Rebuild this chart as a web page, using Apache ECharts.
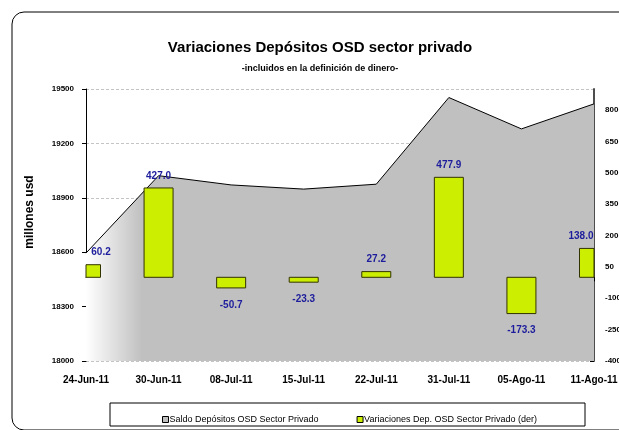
<!DOCTYPE html>
<html>
<head>
<meta charset="utf-8">
<script src="https://cdn.jsdelivr.net/npm/echarts@6/dist/echarts.min.js"></script>
<style>
  html, body { margin: 0; padding: 0; background: #fff; }
  #chart { width: 619px; height: 430px; }
</style>
</head>
<body>
<div id="chart"></div>
<script>
// fechas
var fechas = ['24-Jun-11', '30-Jun-11', '08-Jul-11', '15-Jul-11', '22-Jul-11', '31-Jul-11', '05-Ago-11', '11-Ago-11'];
// saldo (eje izq.)
var saldo = [18595, 19022, 18971, 18948, 18975, 19453, 19280, 19418];
// variaciones (eje der.)
var variaciones = [60.2, 427.0, -50.7, -23.3, 27.2, 477.9, -173.3, 138.0];
// marcas eje derecho
var ticksDer = [-400, -250, -100, 50, 200, 350, 500, 650, 800];

var chart = echarts.init(document.getElementById('chart'));

var fuente = '"Liberation Sans", Arial, sans-serif';
var anchoBarra = 29;

// barras con recorte al area del grafico (como en excel)
function dibujarBarra(params, api) {
    var i = api.value(0);
    var v = api.value(1);
    var base = api.coord([i, 0]);
    var tope = api.coord([i, v]);
    var cs = params.coordSys;
    var rect = echarts.graphic.clipRectByRect({
        x: base[0] - anchoBarra / 2,
        y: Math.min(base[1], tope[1]),
        width: anchoBarra,
        height: Math.abs(base[1] - tope[1])
    }, { x: cs.x, y: cs.y, width: cs.width, height: cs.height });
    var hijos = [];
    if (rect) {
        hijos.push({
            type: 'rect',
            shape: rect,
            style: { fill: '#ccee00', stroke: '#333300', lineWidth: 1 }
        });
    }
    // etiqueta de valor
    var dx = 0;
    if (params.dataIndex === 0) dx = 15;
    if (params.dataIndex === variaciones.length - 1) dx = -13;
    hijos.push({
        type: 'text',
        x: base[0] + dx,
        y: v >= 0 ? tope[1] - 7 : tope[1] + 12,
        style: {
            text: v.toFixed(1),
            fill: '#1c1c9c',
            font: 'bold 10px ' + fuente,
            align: 'center',
            verticalAlign: v >= 0 ? 'bottom' : 'top'
        },
        z2: 10
    });
    return { type: 'group', children: hijos };
}

var option = {
    animation: false,
    textStyle: { fontFamily: fuente },
    title: [{
        text: 'Variaciones Depósitos OSD sector privado',
        left: 315, top: 35, textAlign: 'center',
        textStyle: { fontSize: 15, fontWeight: 'bold', color: '#000', fontFamily: fuente }
    }, {
        text: '-incluidos en la definición de dinero-',
        left: 315, top: 59, textAlign: 'center',
        textStyle: { fontSize: 9, fontWeight: 'bold', color: '#000', fontFamily: fuente }
    }],
    graphic: [{
        type: 'rect',
        shape: { x: 12, y: 12, width: 622, height: 418, r: 12 },
        style: { fill: 'none', stroke: '#000', lineWidth: 1 },
        z: -10
    }, {
        type: 'rect',
        shape: { x: 110, y: 403, width: 475, height: 23 },
        style: { fill: '#fff', stroke: '#000', lineWidth: 1 },
        z: -5
    }],
    legend: {
        left: 157, top: 410,
        itemWidth: 6, itemHeight: 6, itemGap: 38,
        icon: 'rect',
        textStyle: { fontSize: 9, color: '#000', padding: [0, 0, 0, -4] },
        data: [
            { name: 'Saldo Depósitos OSD Sector Privado', itemStyle: { color: '#c0c0c0', borderColor: '#000', borderWidth: 1 } },
            { name: 'Variaciones Dep. OSD Sector Privado (der)', itemStyle: { color: '#ccee00', borderColor: '#000', borderWidth: 1 } }
        ]
    },
    grid: { left: 86, right: 25, top: 89, bottom: 69, outerBoundsMode: 'none', containLabel: false },
    xAxis: {
        type: 'category',
        data: fechas,
        boundaryGap: false,
        axisLine: { lineStyle: { color: '#000', width: 1 } },
        axisTick: { show: true, length: 4, lineStyle: { color: '#000' } },
        axisLabel: { fontSize: 10, fontWeight: 'bold', color: '#000', margin: 14, showMaxLabel: true, showMinLabel: true }
    },
    yAxis: [{
        type: 'value',
        min: 18000, max: 19500, interval: 300,
        name: 'millones usd',
        nameLocation: 'middle',
        nameGap: 50,
        nameTextStyle: { fontSize: 12, fontWeight: 'bold', color: '#000', padding: [0, 0, 0, 26] },
        axisLine: { show: true, lineStyle: { color: '#000', width: 1 } },
        axisTick: { show: true, length: 4, lineStyle: { color: '#000' } },
        axisLabel: {
            fontSize: 8, fontWeight: 'bold', color: '#000', margin: 12,
            formatter: function (v) { return String(v); }
        },
        splitLine: { show: true, lineStyle: { color: '#c4c4c4', type: [3, 2] } }
    }, {
        type: 'value',
        min: -400, max: 900,
        position: 'right',
        axisLine: { show: true, lineStyle: { color: '#4d4d4d', width: 2 } },
        axisTick: { show: true, inside: true, length: 4, customValues: ticksDer, lineStyle: { color: '#000' } },
        axisLabel: { fontSize: 8, fontWeight: 'bold', color: '#000', margin: 11, customValues: ticksDer },
        splitLine: { show: false }
    }],
    series: [{
        name: 'Saldo Depósitos OSD Sector Privado',
        type: 'line',
        yAxisIndex: 0,
        data: saldo,
        symbol: 'none',
        lineStyle: { color: '#000', width: 1 },
        itemStyle: { color: '#c0c0c0' },
        areaStyle: {
            opacity: 1,
            color: new echarts.graphic.LinearGradient(0, 0, 1, 0, [
                { offset: 0, color: '#ffffff' },
                { offset: 0.11, color: '#c0c0c0' },
                { offset: 1, color: '#c0c0c0' }
            ])
        },
        z: 1
    }, {
        name: 'Variaciones Dep. OSD Sector Privado (der)',
        type: 'custom',
        yAxisIndex: 1,
        data: variaciones.map(function (v, i) { return [i, v]; }),
        encode: { x: 0, y: 1 },
        renderItem: dibujarBarra,
        itemStyle: { color: '#ccee00' },
        z: 3
    }]
};

chart.setOption(option);
</script>
</body>
</html>
